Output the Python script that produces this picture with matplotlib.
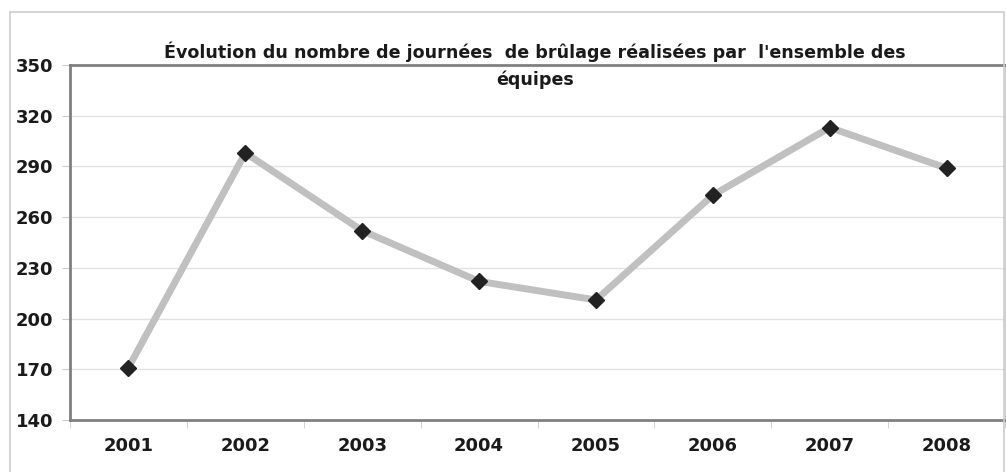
import matplotlib.pyplot as plt
import numpy as np
from matplotlib.patches import Rectangle

# Data
years = ['2001', '2002', '2003', '2004', '2005', '2006', '2007', '2008']
journees = [171, 298, 252, 222, 211, 273, 313, 289]
yticks = [140, 170, 200, 230, 260, 290, 320, 350]

fig = plt.figure(figsize=(10.06, 4.72), dpi=100)
ax = fig.add_axes([70/1006, 1 - 420/472, (1005-70)/1006, (420-65)/472])

# outer chart frame
fig.patches.append(Rectangle((10/1006, -0.1), (1004-10)/1006, 1.1 - 12/472,
                             transform=fig.transFigure, fill=False,
                             edgecolor='#cccccc', linewidth=1.2))

x = np.arange(len(years))
ax.plot(x, journees, color='#c0c0c0', linewidth=5, zorder=3)
ax.plot(x, journees, linestyle='none', marker='D', markersize=8,
        color='#222222', zorder=4)

ax.set_xlim(-0.5, len(years) - 0.5)
ax.set_ylim(140, 350)
ax.set_yticks(yticks)
ax.set_yticklabels([str(v) for v in yticks], fontsize=13, fontweight='bold',
                   color='#1a1a1a')
ax.set_xticks(x)
ax.set_xticklabels(years, fontsize=13, fontweight='bold', color='#1a1a1a')
ax.set_xticks(np.arange(-0.5, len(years)), minor=True)
ax.tick_params(axis='x', which='major', length=0, pad=12)
ax.tick_params(axis='x', which='minor', length=6, color='#cccccc', direction='out')
ax.tick_params(axis='y', length=6, color='#cccccc', pad=6)

ax.grid(axis='y', color='#e2e2e2', linewidth=1)
ax.set_axisbelow(True)
for s in ['left', 'bottom', 'top']:
    ax.spines[s].set_color('#808080')
    ax.spines[s].set_linewidth(2)
ax.spines['right'].set_color('#cccccc')
ax.spines['right'].set_linewidth(1)

fig.text(535/1006, 1 - 52/472,
         "Évolution du nombre de journées  de brûlage réalisées par  l'ensemble des",
         ha='center', va='center', fontsize=12.6, fontweight='bold', color='#1a1a1a')
fig.text(535/1006, 1 - 80/472, "équipes",
         ha='center', va='center', fontsize=12.6, fontweight='bold', color='#1a1a1a')

fig.savefig('out.png', dpi=100)
